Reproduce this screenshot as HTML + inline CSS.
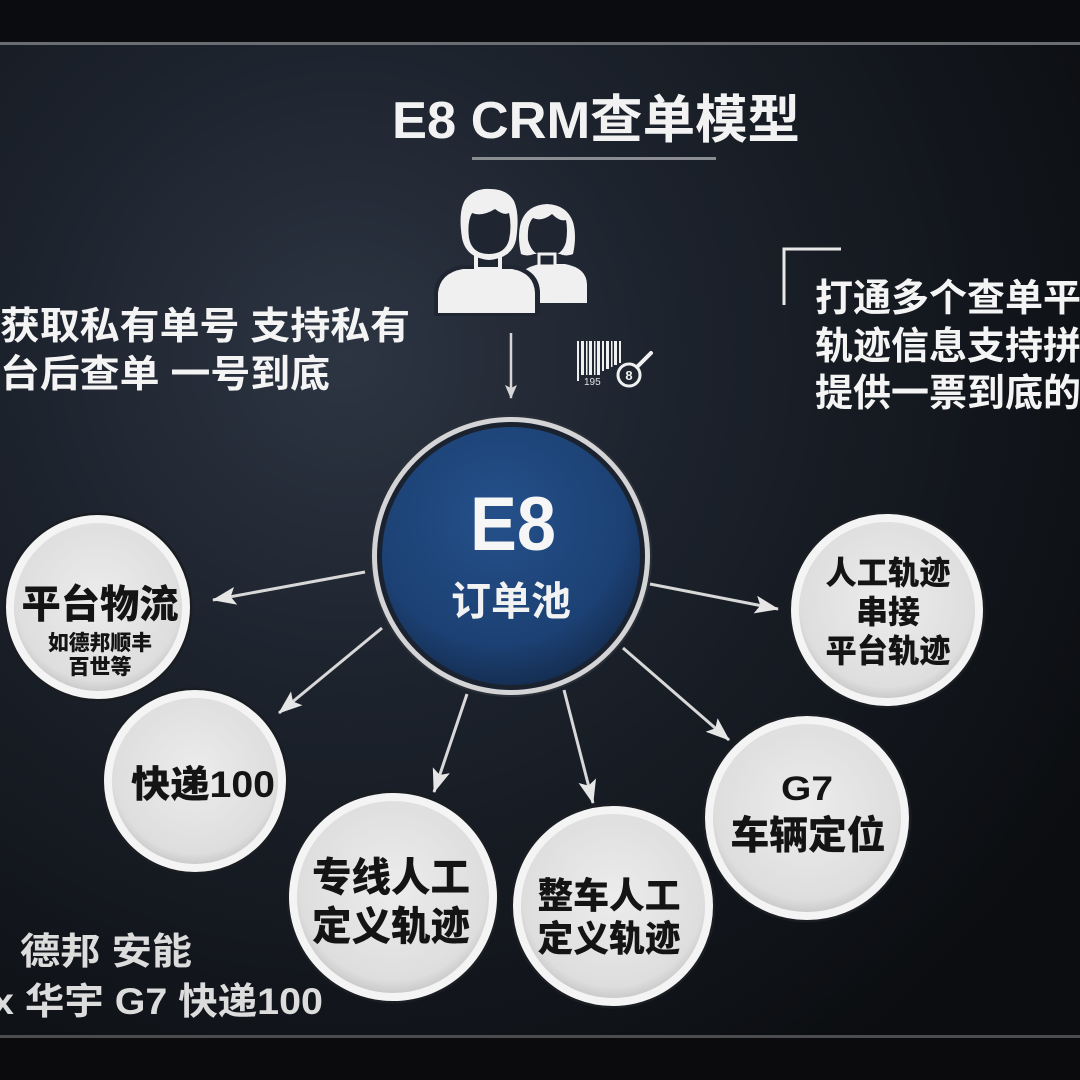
<!DOCTYPE html>
<html><head><meta charset="utf-8"><style>
html,body{margin:0;padding:0;background:#0b0c0f;}
svg{display:block;}
text{font-family:"Liberation Sans","Noto Sans CJK SC",sans-serif;}
.cjk{font-family:"Liberation Sans","Noto Sans CJK SC",sans-serif;font-weight:700;}
.node{font-family:"Liberation Sans","Noto Sans CJK SC",sans-serif;font-weight:900;fill:#141414;}
</style></head><body>
<svg width="1080" height="1080" viewBox="0 0 1080 1080" xmlns="http://www.w3.org/2000/svg">
<defs>
<radialGradient id="bg" cx="0.32" cy="0.33" r="0.8">
<stop offset="0" stop-color="#2d3543"/>
<stop offset="0.4" stop-color="#1c222c"/>
<stop offset="1" stop-color="#0b0d10"/>
</radialGradient>
<radialGradient id="nodefill" cx="0.5" cy="0.45" r="0.55">
<stop offset="0" stop-color="#ececec"/>
<stop offset="0.85" stop-color="#dedede"/>
<stop offset="1" stop-color="#c4c4c4"/>
</radialGradient>
<radialGradient id="blue" cx="0.45" cy="0.35" r="0.7">
<stop offset="0" stop-color="#24508a"/>
<stop offset="0.7" stop-color="#1c4174"/>
<stop offset="1" stop-color="#13294a"/>
</radialGradient>
<marker id="ah" viewBox="0 0 24 18" refX="23" refY="9" markerWidth="24" markerHeight="18" markerUnits="userSpaceOnUse" orient="auto">
<path d="M0,0 L24,9 L0,18 L5,9 Z" fill="#e6e6e6"/>
</marker>
<marker id="ah2" viewBox="0 0 14 12" refX="13" refY="6" markerWidth="14" markerHeight="12" markerUnits="userSpaceOnUse" orient="auto">
<path d="M0,0 L14,6 L0,12 L3,6 Z" fill="#d6d6d6"/>
</marker>
</defs>

<rect x="0" y="0" width="1080" height="1080" fill="url(#bg)"/>
<rect x="0" y="0" width="1080" height="42" fill="#0b0c0f"/>
<rect x="0" y="42" width="1080" height="3" fill="#6a6d72"/>
<rect x="0" y="1037" width="1080" height="43" fill="#0b0b0d"/>
<rect x="0" y="1035" width="1080" height="3" fill="#4a4c50"/>

<!-- Title -->
<text x="392" y="138" font-size="52" fill="#f2f2f2" font-weight="700" textLength="408" lengthAdjust="spacingAndGlyphs">E8 CRM查单模型</text>
<rect x="472" y="157" width="244" height="3" fill="#8a8d92"/>

<!-- Left text -->
<text class="cjk" x="0" y="339" font-size="38" fill="#f4f4f4" textLength="410" lengthAdjust="spacingAndGlyphs">获取私有单号 支持私有</text>
<text class="cjk" x="0" y="387" font-size="38" fill="#f4f4f4" textLength="330" lengthAdjust="spacingAndGlyphs">台后查单 一号到底</text>

<!-- Right text -->
<path d="M784,305 L784,249 L841,249" fill="none" stroke="#e8e8e8" stroke-width="3"/>
<text class="cjk" x="815" y="311" font-size="38" fill="#f4f4f4">打通多个查单平台</text>
<text class="cjk" x="815" y="359" font-size="38" fill="#f4f4f4">轨迹信息支持拼接</text>
<text class="cjk" x="815" y="406" font-size="38" fill="#f4f4f4">提供一票到底的</text>

<!-- Bottom-left text -->
<text class="cjk" x="20" y="964" font-size="37" fill="#dcdcdc" textLength="172" lengthAdjust="spacingAndGlyphs">德邦 安能</text>
<text class="cjk" x="-8" y="1014" font-size="37" fill="#dcdcdc" textLength="331" lengthAdjust="spacingAndGlyphs">x 华宇 G7 快递100</text>

<!-- People icon -->
<g>
<!-- woman -->
<path d="M517,303 L517,285 Q518,268 540,264 L565,264 Q587,268 587,285 L587,303 Z" fill="#f0f0f0"/>
<path d="M521,254 Q517,236 521,222 Q527,205 547,204 Q567,205 573,222 Q577,236 573,254 Q566,257 560,254 L534,254 Q527,257 521,254 Z" fill="#f0f0f0"/>
<path d="M528,240 Q527,224 533,218 Q542,222 552,214 Q560,222 566,220 Q568,230 566,242 Q562,256 547,257 Q532,256 528,240 Z" fill="#1f2631"/>
<rect x="539" y="254" width="16" height="12" fill="#1f2631" stroke="#f0f0f0" stroke-width="3"/>
<!-- man -->
<path d="M434,316 L434,292 Q436,270 462,265 L513,265 Q539,270 540,292 L540,316 Z" fill="#1f2631"/>
<path d="M438,313 L438,293 Q440,273 463,269 L512,269 Q534,273 535,293 L535,313 Z" fill="#f0f0f0"/>
<rect x="476" y="249" width="24" height="20" fill="#1f2631" stroke="#f0f0f0" stroke-width="4"/>
<path d="M462,238 Q458,212 465,200 Q474,188 490,189 Q507,189 514,201 Q520,214 516,240 Q512,258 489,260 Q466,258 462,238 Z" fill="#f0f0f0"/>
<path d="M469,238 Q467,222 472,213 Q482,217 495,209 Q504,216 509,213 Q512,226 509,240 Q505,254 489,254 Q472,254 469,238 Z" fill="#1f2631"/>
</g>

<!-- Barcode icon -->
<g fill="#f0f0f0">
<rect x="577" y="341" width="2" height="40"/>
<rect x="581" y="341" width="3" height="34"/>
<rect x="586" y="341" width="1.5" height="34"/>
<rect x="589" y="341" width="3" height="34"/>
<rect x="594" y="341" width="1.5" height="34"/>
<rect x="597" y="341" width="3" height="34"/>
<rect x="602" y="341" width="2" height="30"/>
<rect x="606" y="341" width="3" height="28"/>
<rect x="611" y="341" width="1.5" height="26"/>
<rect x="614" y="341" width="3" height="24"/>
<rect x="619" y="341" width="2" height="22"/>
</g>
<text x="584" y="385" font-size="10" fill="#e0e0e0">195</text>
<circle cx="629" cy="375" r="11" fill="none" stroke="#f0f0f0" stroke-width="3"/>
<text x="629" y="380" font-size="13" fill="#f0f0f0" text-anchor="middle" font-weight="700">8</text>
<line x1="637" y1="367" x2="651" y2="353" stroke="#f0f0f0" stroke-width="4" stroke-linecap="round"/>

<!-- Down arrow -->
<line x1="511" y1="333" x2="511" y2="398" stroke="#d6d6d6" stroke-width="2.5" marker-end="url(#ah2)"/>

<!-- Connectors -->
<g stroke="#d8d8d8" stroke-width="3" fill="none">
<line x1="365" y1="572" x2="213" y2="600" marker-end="url(#ah)"/>
<line x1="382" y1="628" x2="279" y2="713" marker-end="url(#ah)"/>
<line x1="467" y1="694" x2="434" y2="792" marker-end="url(#ah)"/>
<line x1="564" y1="690" x2="593" y2="803" marker-end="url(#ah)"/>
<line x1="623" y1="648" x2="729" y2="740" marker-end="url(#ah)"/>
<line x1="650" y1="584" x2="778" y2="609" marker-end="url(#ah)"/>
</g>

<!-- Center circle -->
<circle cx="511" cy="556" r="140" fill="#d4d4d6" stroke="#2a3038" stroke-width="2"/>
<circle cx="511" cy="556" r="134" fill="#1a2230"/>
<circle cx="511" cy="556" r="129" fill="url(#blue)"/>
<text x="470" y="550" font-size="76" font-weight="700" fill="#f6f6f6" textLength="86" lengthAdjust="spacingAndGlyphs">E8</text>
<text class="cjk" x="511" y="615" font-size="40" fill="#f2f2f2" text-anchor="middle">订单池</text>

<!-- Nodes -->
<g stroke="#1a1d22" stroke-width="3" fill="none">
<circle cx="98" cy="607" r="93"/>
<circle cx="195" cy="781" r="92"/>
<circle cx="393" cy="897" r="105"/>
<circle cx="613" cy="906" r="101"/>
<circle cx="807" cy="818" r="103"/>
<circle cx="887" cy="610" r="97"/>
</g>
<g stroke="#f4f4f4" stroke-width="8" fill="url(#nodefill)">
<circle cx="98" cy="607" r="88"/>
<circle cx="195" cy="781" r="87"/>
<circle cx="393" cy="897" r="100"/>
<circle cx="613" cy="906" r="96"/>
<circle cx="807" cy="818" r="98"/>
<circle cx="887" cy="610" r="92"/>
</g>

<text class="node" x="100" y="618" font-size="39" text-anchor="middle" textLength="157" lengthAdjust="spacingAndGlyphs">平台物流</text>
<text class="node" x="100" y="650" font-size="21" text-anchor="middle" textLength="104" lengthAdjust="spacingAndGlyphs">如德邦顺丰</text>
<text class="node" x="100" y="674" font-size="21" text-anchor="middle">百世等</text>

<text class="node" x="131" y="797" font-size="37" textLength="144" lengthAdjust="spacingAndGlyphs">快递100</text>

<text class="node" x="391" y="891" font-size="40" text-anchor="middle" textLength="158" lengthAdjust="spacingAndGlyphs">专线人工</text>
<text class="node" x="391" y="940" font-size="40" text-anchor="middle" textLength="158" lengthAdjust="spacingAndGlyphs">定义轨迹</text>

<text class="node" x="609" y="908" font-size="36" text-anchor="middle" textLength="143" lengthAdjust="spacingAndGlyphs">整车人工</text>
<text class="node" x="609" y="951" font-size="36" text-anchor="middle" textLength="143" lengthAdjust="spacingAndGlyphs">定义轨迹</text>

<text class="node" x="807" y="800" font-size="34" text-anchor="middle" textLength="52" lengthAdjust="spacingAndGlyphs">G7</text>
<text class="node" x="808" y="849" font-size="39" text-anchor="middle" textLength="155" lengthAdjust="spacingAndGlyphs">车辆定位</text>

<text class="node" x="888" y="584" font-size="32" text-anchor="middle" textLength="125" lengthAdjust="spacingAndGlyphs">人工轨迹</text>
<text class="node" x="888" y="623" font-size="32" text-anchor="middle">串接</text>
<text class="node" x="888" y="662" font-size="32" text-anchor="middle" textLength="125" lengthAdjust="spacingAndGlyphs">平台轨迹</text>
</svg>
</body></html>
